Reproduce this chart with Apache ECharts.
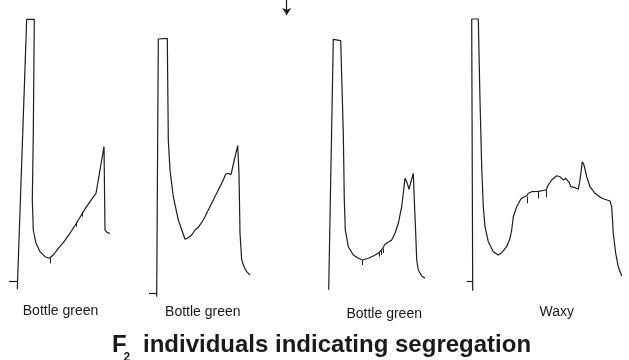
<!DOCTYPE html>
<html>
<head>
<meta charset="utf-8">
<script src="https://cdn.jsdelivr.net/npm/echarts@6/dist/echarts.min.js"></script>
<style>
html,body{margin:0;padding:0;background:#fff;}
#chart{width:629px;height:360px;}
</style>
</head>
<body>
<div id="chart"></div>
<script>
// Trace data: [retention position, detector depth] (y increases downward)
var trace1 = [[17.3,289.3],[26.7,19.3],[34.3,19.3],[33.3,133],[32.3,200],[33.3,230],[36,243.3],[40,251.7],[45,256.7],[49.3,258.3],[53.3,255],[58.3,248.3],[63.3,242.7],[70,233.3],[76.7,222.7],[83.3,211.7],[90,201.7],[96,193.3],[97.3,192.7],[104,146.7],[105,230],[107.3,232.7],[110,233.3]];
var trace2 = [[156.7,296.7],[158.3,39],[167.3,38.3],[168.3,140],[170,170],[173.3,196.7],[178.3,220],[185,239.3],[188.3,237.7],[191.7,235],[195,230],[198.3,227.3],[203.3,220],[208.3,210],[213.3,200],[218.3,190],[223.3,180],[225.7,174],[228.3,173.3],[231,174.7],[234.3,160],[237.7,145.7],[239,173.3],[240,233.3],[241.7,260],[244,266.7],[246.7,271.7],[250,275]];
var trace3 = [[328.7,289.7],[333.3,39.3],[340.7,40.7],[343.3,133.3],[344.3,200],[345.3,230],[348.3,246.7],[353.3,255],[358.3,258.3],[362.7,260],[368.3,258.3],[373.3,256],[378.3,253.3],[382.7,248.3],[385,244.3],[387.3,242.7],[391.7,240],[395,233.3],[398.3,223.3],[401.7,206.7],[403.3,193.3],[405,178.3],[407.3,183.3],[409,189.3],[410.7,182.7],[413.3,173.3],[414.3,200],[415.7,233.3],[416.7,260],[418.3,270],[421.7,276],[425,278.3]];
var trace4 = [[472.7,290.7],[471.7,19],[478.3,19],[480,100],[481.7,166.7],[483.3,206.7],[485,226.7],[488.3,241.7],[493.3,251.7],[498.3,255],[501.7,252.7],[506.7,246.7],[510,238.3],[511.7,230],[513.3,216.7],[516.7,206.7],[520.7,199.3],[523.3,197.3],[526.7,196],[528.3,193.3],[531.7,191.7],[538.3,191.3],[546,190],[548.3,185],[551.7,180],[556.7,175.7],[560,176.7],[563.3,180],[565.7,178.3],[567.3,179],[569.3,182.7],[570.7,186.7],[574.3,187.3],[578.3,189.3],[580,180],[582.3,161.7],[584,165],[586.7,176.7],[590,186.7],[595,193.3],[601.7,198.3],[610,201],[611.7,206.7],[613.3,233.3],[615.7,253.3],[618.3,266.7],[621.7,276]];
// Integration tick marks: [position, top, bottom]
var peakTicks = [[50,258.3,263.3],[76.7,221.7,226.7],[82.7,211.7,216.7],[362.7,260,265],[379.3,252.3,256.7],[381.7,250.5,255],[383.3,248.5,253],[527.3,196.7,203.3],[538.3,191.7,198.3],[546,190,197.3]];
// Baseline markers: [start, end, level]
var baseMarks = [[9,17.6,281.7],[149,156.8,293.3],[466.7,472.5,281]];
// Injection arrow: [position, start, end]
var arrowMark = [286.7, 0, 15];
var sampleLabels = ['Bottle green','Bottle green','Bottle green','Waxy'];
var labelCenters = [60.5, 202.8, 384.2, 556.7];

var chart = echarts.init(document.getElementById('chart'), null, {renderer:'canvas'});
var lineColor = '#1e1e1e';
var lineStyle = {color: lineColor, width: 1.2};

function traceSeries(d){
  return {type:'line', data:d, symbol:'none', smooth:false, lineStyle:lineStyle, silent:true, animation:false};
}
var tickLines = peakTicks.map(function(t){ return {coords:[[t[0],t[1]],[t[0],t[2]]]}; });
var baseLines = baseMarks.map(function(b){ return {coords:[[b[0],b[2]],[b[1],b[2]]]}; });

var labelFont = '14px "Liberation Sans", Arial, sans-serif';
var labelYs = [311, 312.5, 314.3, 312.3];
var graphics = sampleLabels.map(function(s,i){
  return {type:'text', x:labelCenters[i], y:labelYs[i], silent:true,
    style:{text:s, font:labelFont, fill:'#1a1a1a', textAlign:'center', textVerticalAlign:'middle', align:'center', verticalAlign:'middle'}};
});
var titleFont = 'bold 24px "Liberation Sans", Arial, sans-serif';
graphics.push({type:'text', x:112, y:345, silent:true, style:{text:'F', font:titleFont, fill:'#1a1a1a', textAlign:'left', textVerticalAlign:'middle', align:'left', verticalAlign:'middle'}});
graphics.push({type:'text', x:123.5, y:358, silent:true, style:{text:'2', font:'bold 12px "Liberation Sans", Arial, sans-serif', fill:'#1a1a1a', textAlign:'left', textVerticalAlign:'middle', align:'left', verticalAlign:'middle'}});
graphics.push({type:'text', x:143, y:345, silent:true, style:{text:'individuals indicating segregation', font:titleFont, fill:'#1a1a1a', textAlign:'left', textVerticalAlign:'middle', align:'left', verticalAlign:'middle'}});

chart.setOption({
  animation:false,
  backgroundColor:'#ffffff',
  grid:{left:0,right:0,top:0,bottom:0},
  xAxis:{type:'value', min:0, max:629, show:false},
  yAxis:{type:'value', min:0, max:360, inverse:true, show:false},
  graphic:graphics,
  series:[
    traceSeries(trace1), traceSeries(trace2), traceSeries(trace3), traceSeries(trace4),
    {type:'lines', coordinateSystem:'cartesian2d', data:tickLines, lineStyle:{color:lineColor,width:1,opacity:1}, symbol:'none', silent:true, animation:false},
    {type:'lines', coordinateSystem:'cartesian2d', data:baseLines, lineStyle:{color:lineColor,width:1.2,opacity:1}, symbol:'none', silent:true, animation:false},
    {type:'lines', coordinateSystem:'cartesian2d', data:[{coords:[[arrowMark[0],arrowMark[1]],[arrowMark[0],arrowMark[2]]]}], lineStyle:{color:lineColor,width:1.2,opacity:1}, symbol:['none','arrow'], symbolSize:7, silent:true, animation:false}
  ]
});
</script>
</body>
</html>
